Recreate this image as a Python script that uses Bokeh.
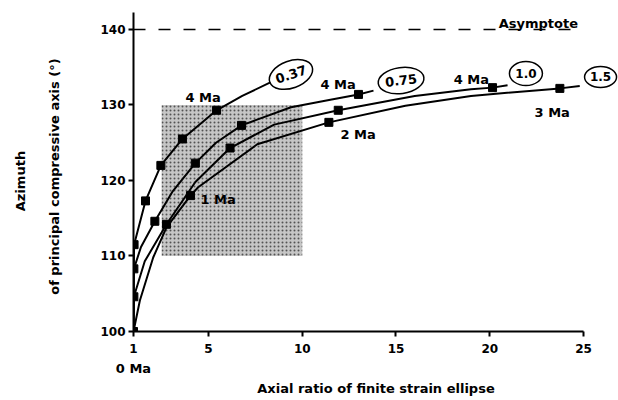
import numpy as np
from bokeh.plotting import figure
from bokeh.models import ColumnDataSource, FixedTicker, LinearAxis, Range1d
from bokeh.core.properties import value
from bokeh.embed import file_html
from bokeh.resources import INLINE

# ---------------- data ----------------
x_ticks = [1, 5, 10, 15, 20, 25]
y_ticks = [100, 110, 120, 130, 140]
asymptote_value = 140

# curve for rate 0.37
c037_x = [1, 1.01, 1.03, 1.64, 2.46, 3.61, 5.43, 6.8, 8.3]
c037_y = [100, 106, 111.5, 117.3, 122.0, 125.5, 129.3, 131.2, 133.0]
s037_x = [1.03, 1.64, 2.46, 3.61, 5.43]
s037_y = [111.5, 117.3, 122.0, 125.5, 129.3]

# curve for rate 0.75
c075_x = [1, 1.02, 1.4, 2.14, 3.1, 4.3, 5.4, 6.76, 9.4, 11.5, 13.0, 13.8]
c075_y = [100, 108.3, 111.2, 114.6, 118.6, 122.3, 125.0, 127.3, 129.7, 130.7, 131.4, 131.9]
s075_x = [1.02, 2.14, 4.3, 6.76, 13.0]
s075_y = [108.3, 114.6, 122.3, 127.3, 131.4]

# curve for rate 1.0
c10_x = [1, 1.02, 1.6, 2.76, 4.3, 6.15, 8.5, 11.92, 16.0, 19.0, 20.15, 20.95]
c10_y = [100, 104.6, 109.3, 114.2, 119.8, 124.3, 127.4, 129.3, 131.2, 132.1, 132.3, 132.6]
s10_x = [1.02, 2.76, 6.15, 11.92, 20.15]
s10_y = [104.6, 114.2, 124.3, 129.3, 132.3]

# curve for rate 1.5
c15_x = [1, 1.34, 2.05, 2.76, 4.04, 4.45, 7.6, 11.42, 15.5, 19.0, 23.74, 24.8]
c15_y = [100, 104.1, 109.8, 113.8, 118.0, 119.1, 124.8, 127.7, 129.9, 131.2, 132.2, 132.5]
s15_x = [1, 4.04, 11.42, 23.74]
s15_y = [100, 118.0, 127.7, 132.2]

# shaded field
box_x = [2.5, 10]
box_y = [110, 130]

# rate labels (in ellipses)
rate_text = ["0.37", "0.75", "1.0", "1.5"]
rate_x = [9.4, 15.27, 21.93, 25.91]
rate_y = [134.04, 133.24, 134.17, 133.71]

# time labels
time_text = ["4 Ma", "4 Ma", "4 Ma", "3 Ma", "2 Ma", "1 Ma"]
time_x = [3.77, 10.97, 18.08, 22.39, 12.04, 4.57]
time_y = [130.93, 132.65, 133.42, 129.07, 126.03, 117.42]

asym_text = "Asymptote"
asym_x, asym_y = 20.48, 140.79

start_label = "0 Ma"
x_title = "Axial ratio of finite strain ellipse"
y_title_1 = "Azimuth"
y_title_2 = "of principal compressive axis (°)"

# ---------------- styling ----------------
FONT = "DejaVu Sans"
NB = "\u00a0"
ell_w = [45, 46, 33, 32]
ell_h = [27, 26, 24, 21]
ell_ang = [20, 8, 0, 0]
txt_ang = [18, 7, 0, 0]
txt_size = ["13px", "13px", "12px", "12px"]

p = figure(width=618, height=400,
           x_range=Range1d(1, 26.867), y_range=Range1d(100, 142.25),
           output_backend="svg", toolbar_location=None,
           min_border_left=133, min_border_right=0,
           min_border_top=12, min_border_bottom=69)
p.outline_line_color = None
p.xgrid.grid_line_color = None
p.ygrid.grid_line_color = None
p.background_fill_color = "white"
p.border_fill_color = "white"


def style_axis(ax, size="12px"):
    ax.axis_line_width = 2
    ax.axis_line_color = "black"
    ax.major_tick_line_width = 2
    ax.major_tick_in = 0
    ax.major_tick_out = 5
    ax.minor_tick_line_color = None
    ax.major_label_text_font = FONT
    ax.major_label_text_font_style = "bold"
    ax.major_label_text_font_size = size
    ax.major_label_text_color = "black"
    ax.axis_label_text_font = FONT
    ax.axis_label_text_font_style = "bold"
    ax.axis_label_text_font_size = "13px"
    ax.axis_label_text_color = "black"


style_axis(p.xaxis[0])
style_axis(p.yaxis[0])
p.xaxis.ticker = FixedTicker(ticks=x_ticks)
p.yaxis.ticker = FixedTicker(ticks=y_ticks)
p.xaxis.bounds = (x_ticks[0], x_ticks[-1])
p.xaxis.major_label_standoff = 7
p.yaxis.major_label_standoff = 3

# second bottom axis: "0 Ma" and the x title
xb = LinearAxis(ticker=FixedTicker(ticks=[x_ticks[0]]),
                major_label_overrides={x_ticks[0]: start_label},
                axis_label=x_title, bounds=(1, 26))
style_axis(xb, "13px")
xb.axis_line_color = None
xb.major_tick_line_color = None
xb.major_tick_out = 0
xb.major_label_standoff = 5
xb.axis_label_standoff = 2
p.add_layout(xb, "below")

# left title axes (trailing no-break spaces shift the centred titles down a little)
ya = LinearAxis(ticker=FixedTicker(ticks=[]), axis_label=y_title_2 + NB * 2,
                bounds=(100, 141.2))
style_axis(ya)
ya.axis_line_color = None
ya.major_tick_line_color = None
ya.major_tick_out = 0
ya.axis_label_standoff = 36
p.add_layout(ya, "left")

yb = LinearAxis(ticker=FixedTicker(ticks=[]), axis_label=y_title_1 + NB * 4,
                bounds=(100, 140.5))
style_axis(yb)
yb.axis_line_color = None
yb.major_tick_line_color = None
yb.major_tick_out = 0
yb.axis_label_standoff = 16
p.add_layout(yb, "left")

# shaded field
p.quad(left=box_x[0], right=box_x[1], bottom=box_y[0], top=box_y[1],
       fill_color="#c6c6c6", line_color=None,
       hatch_pattern=".", hatch_color="#222222", hatch_alpha=0.7, hatch_scale=4)

# asymptote
p.line([x_ticks[0], x_ticks[-1]], [asymptote_value, asymptote_value],
       line_color="black", line_width=1.5, line_dash="12 13")

curves = [(c037_x, c037_y, s037_x, s037_y),
          (c075_x, c075_y, s075_x, s075_y),
          (c10_x, c10_y, s10_x, s10_y),
          (c15_x, c15_y, s15_x, s15_y)]
for cx, cy, sx, sy in curves:
    p.line(cx, cy, line_color="black", line_width=2)
    p.scatter(sx, sy, marker="square", size=8, color="black")

# ellipses with rates
esrc = ColumnDataSource(dict(x=rate_x, y=rate_y, w=ell_w, h=ell_h, a=ell_ang,
                             t=rate_text, ta=txt_ang, fs=txt_size))
p.ellipse(x="x", y="y", width="w", height="h", angle="a", angle_units="deg",
          width_units="screen", height_units="screen",
          fill_color=None, line_color="black", line_width=1.5, source=esrc)
p.text(x="x", y="y", text="t", angle="ta", angle_units="deg", source=esrc,
       text_font=value(FONT), text_font_style="bold", text_font_size="fs",
       text_align="center", text_baseline="middle", text_color="black")

# time labels
p.text(x=time_x, y=time_y, text=time_text,
       text_font=value(FONT), text_font_style="bold", text_font_size="13px",
       text_align="left", text_baseline="alphabetic", text_color="black")
p.text(x=[asym_x], y=[asym_y], text=[asym_text],
       text_font=value(FONT), text_font_style="bold", text_font_size="13px",
       text_align="left", text_baseline="alphabetic", text_color="black")

open("out.html", "w").write(file_html(p, INLINE))
